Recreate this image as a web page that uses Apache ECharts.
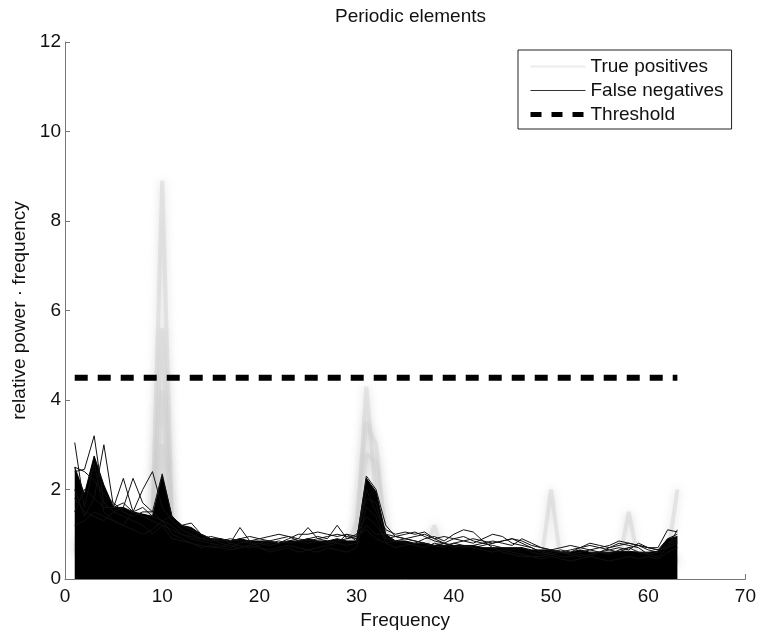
<!DOCTYPE html>
<html>
<head>
<meta charset="utf-8">
<script src="https://cdn.jsdelivr.net/npm/echarts@6/dist/echarts.min.js"></script>
<style>
  html, body { margin: 0; padding: 0; background: #fff; }
  #chart { width: 759px; height: 637px; }
</style>
</head>
<body>
<div id="chart"></div>
<script>
// frequencies 1..63
const freqs = [1, 2, 3, 4, 5, 6, 7, 8, 9, 10, 11, 12, 13, 14, 15, 16,
  17, 18, 19, 20, 21, 22, 23, 24, 25, 26, 27, 28, 29, 30, 31, 32,
  33, 34, 35, 36, 37, 38, 39, 40, 41, 42, 43, 44, 45, 46, 47, 48,
  49, 50, 51, 52, 53, 54, 55, 56, 57, 58, 59, 60, 61, 62, 63];

// dense black bundle of false negatives: top of the solid mass
const massTop = [2.5, 1.9, 2.75, 2.1, 1.6, 1.6, 1.5, 1.45, 1.4, 2.3, 1.4, 1.2, 1.15, 1.0, 0.9, 0.9,
  0.85, 0.9, 0.85, 0.85, 0.85, 0.8, 0.85, 0.85, 0.9, 0.85, 0.85, 0.9, 0.85, 0.85, 2.25, 1.95,
  1.0, 0.85, 0.85, 0.8, 0.8, 0.75, 0.75, 0.75, 0.75, 0.75, 0.7, 0.7, 0.7, 0.7, 0.7, 0.65,
  0.65, 0.65, 0.6, 0.6, 0.65, 0.6, 0.6, 0.6, 0.62, 0.62, 0.6, 0.6, 0.62, 0.9, 0.95];

// individual false-negative traces that stick out of the bundle
const fn1 = [3.05, 1.6, 2.6, 1.5, 1.3, 1.2, 1.1, 1.0, 1.1, 1.3, 1.0, 0.9, 0.8, 0.7, 0.75, 0.7,
  0.8, 1.15, 0.85, 0.7, 0.6, 0.65, 0.7, 0.6, 0.65, 0.6, 0.7, 0.65, 0.6, 0.7, 1.6, 1.4,
  0.8, 0.7, 0.75, 0.8, 0.9, 0.95, 0.85, 1.0, 1.1, 1.05, 0.85, 0.7, 0.6, 0.55, 0.5, 0.5,
  0.45, 0.5, 0.45, 0.4, 0.45, 0.5, 0.45, 0.4, 0.45, 0.5, 0.45, 0.5, 0.45, 0.6, 0.7];
const fn2 = [2.4, 2.45, 3.2, 1.7, 1.5, 1.4, 1.3, 1.2, 1.0, 1.2, 0.9, 0.85, 0.8, 0.75, 0.7, 0.7,
  0.65, 0.7, 0.75, 0.8, 0.75, 0.8, 0.85, 0.9, 1.15, 0.9, 0.85, 0.8, 0.75, 0.8, 2.0, 1.5,
  1.1, 1.0, 1.05, 1.0, 1.05, 0.9, 0.8, 0.7, 0.75, 0.7, 0.65, 0.6, 0.65, 0.6, 0.55, 0.5,
  0.5, 0.55, 0.5, 0.5, 0.55, 0.5, 0.6, 0.7, 0.8, 0.75, 0.7, 0.55, 0.5, 0.7, 1.1];
const fn3 = [1.5, 2.0, 1.8, 3.0, 1.6, 1.7, 1.5, 1.4, 1.3, 1.2, 1.1, 1.0, 0.95, 0.9, 0.85, 0.9,
  0.8, 0.75, 0.7, 0.75, 0.8, 0.85, 0.8, 0.85, 0.9, 0.95, 0.9, 1.2, 0.9, 0.95, 1.8, 1.7,
  0.9, 0.85, 0.8, 0.75, 0.7, 0.8, 0.75, 0.8, 0.85, 0.8, 0.9, 1.0, 0.95, 0.8, 0.75, 0.7,
  0.6, 0.55, 0.6, 0.55, 0.5, 0.55, 0.6, 0.55, 0.65, 0.7, 0.6, 0.55, 0.6, 0.8, 0.9];
const fn4 = [2.0, 1.4, 1.8, 1.6, 1.6, 2.25, 1.5, 1.6, 1.4, 1.3, 1.4, 1.2, 1.25, 1.0, 0.9, 0.85,
  0.9, 0.85, 0.8, 0.8, 0.85, 0.9, 0.95, 0.85, 0.8, 0.85, 0.8, 0.85, 0.9, 1.0, 1.4, 1.2,
  0.9, 0.95, 0.9, 0.85, 0.8, 0.75, 0.7, 0.8, 0.75, 0.7, 0.75, 0.8, 0.85, 0.9, 0.8, 0.7,
  0.6, 0.65, 0.6, 0.65, 0.7, 0.65, 0.7, 0.75, 0.85, 0.8, 0.75, 0.7, 0.65, 0.9, 1.0];
const fn5 = [1.8, 1.5, 1.4, 1.3, 1.5, 1.6, 2.25, 1.7, 1.5, 1.3, 1.2, 1.0, 0.9, 0.85, 0.8, 0.75,
  0.7, 0.8, 0.85, 0.9, 0.95, 1.0, 0.95, 0.9, 0.85, 0.9, 0.95, 1.0, 0.95, 0.9, 1.2, 1.0,
  1.0, 0.95, 1.0, 1.05, 0.95, 0.85, 0.8, 0.9, 0.95, 0.85, 0.8, 0.85, 0.8, 0.75, 0.9, 0.8,
  0.7, 0.65, 0.6, 0.55, 0.6, 0.65, 0.6, 0.65, 0.7, 0.65, 0.8, 0.7, 0.65, 0.7, 0.8];
const fn6 = [1.2, 1.3, 1.5, 1.4, 1.3, 1.2, 1.5, 2.0, 2.4, 1.6, 1.3, 1.1, 1.0, 0.9, 0.95, 0.9,
  0.85, 0.9, 0.95, 0.9, 0.85, 0.8, 0.9, 1.0, 1.0, 1.05, 1.0, 0.95, 1.0, 0.95, 1.1, 0.9,
  0.8, 0.85, 0.9, 0.85, 0.8, 0.75, 0.8, 0.75, 0.7, 0.75, 0.8, 0.75, 0.7, 0.65, 0.7, 0.6,
  0.55, 0.6, 0.65, 0.6, 0.7, 0.75, 0.7, 0.65, 0.6, 0.7, 0.75, 0.65, 0.6, 0.75, 0.85];
const fn7 = [2.5, 2.4, 2.2, 1.9, 1.7, 1.5, 1.4, 1.5, 1.5, 2.35, 1.4, 1.2, 1.1, 1.0, 0.9, 0.8,
  0.75, 0.7, 0.75, 0.7, 0.65, 0.7, 0.75, 0.7, 0.65, 0.7, 0.75, 0.8, 1.0, 0.85, 2.3, 2.0,
  1.2, 0.95, 0.9, 0.95, 1.0, 0.9, 0.95, 0.9, 0.85, 0.9, 0.85, 0.8, 0.85, 0.9, 0.85, 0.75,
  0.7, 0.65, 0.7, 0.75, 0.7, 0.8, 0.75, 0.7, 0.75, 0.8, 0.75, 0.7, 0.7, 1.1, 1.05];

// true-positive traces (light grey, mostly hidden under the bundle)
const tp1 = [0.8, 0.7, 0.9, 0.8, 0.7, 0.6, 0.6, 0.7, 1.4, 8.9, 1.3, 0.8, 0.7, 0.6, 0.5, 0.5,
  0.5, 0.5, 0.5, 0.5, 0.5, 0.5, 0.5, 0.5, 0.5, 0.5, 0.5, 0.5, 0.5, 0.6, 1.2, 0.8,
  0.5, 0.5, 0.5, 0.5, 0.5, 0.5, 0.4, 0.4, 0.4, 0.4, 0.4, 0.4, 0.4, 0.4, 0.4, 0.4,
  0.4, 0.4, 0.4, 0.4, 0.4, 0.4, 0.4, 0.4, 0.4, 0.4, 0.4, 0.4, 0.4, 0.4, 0.4];
const tp2 = [0.9, 0.8, 1.0, 0.8, 0.7, 0.7, 0.6, 0.8, 1.2, 5.6, 1.1, 0.7, 0.6, 0.6, 0.5, 0.5,
  0.5, 0.5, 0.5, 0.5, 0.5, 0.5, 0.5, 0.5, 0.5, 0.5, 0.5, 0.5, 0.6, 0.9, 4.3, 1.8,
  0.6, 0.5, 0.5, 0.5, 0.5, 0.5, 0.4, 0.4, 0.4, 0.4, 0.4, 0.4, 0.4, 0.4, 0.4, 0.4,
  0.4, 0.4, 0.4, 0.4, 0.4, 0.4, 0.4, 0.4, 0.4, 0.4, 0.4, 0.4, 0.4, 0.4, 0.4];
const tp3 = [0.7, 0.6, 0.8, 0.7, 0.6, 0.6, 0.6, 0.7, 1.0, 4.2, 1.0, 0.7, 0.6, 0.5, 0.5, 0.5,
  0.5, 0.5, 0.5, 0.5, 0.5, 0.5, 0.5, 0.5, 0.5, 0.5, 0.5, 0.5, 0.6, 1.3, 3.5, 3.0,
  0.9, 0.5, 0.5, 0.5, 0.6, 1.2, 0.5, 0.4, 0.4, 0.4, 0.4, 0.4, 0.4, 0.4, 0.4, 0.4,
  0.4, 2.0, 0.4, 0.4, 0.4, 0.4, 0.4, 0.4, 0.4, 0.4, 0.4, 0.4, 0.4, 0.4, 0.4];
const tp4 = [0.6, 0.6, 0.7, 0.6, 0.6, 0.5, 0.5, 0.6, 0.8, 3.0, 0.8, 0.6, 0.5, 0.5, 0.5, 0.5,
  0.5, 0.5, 0.5, 0.5, 0.5, 0.5, 0.5, 0.5, 0.5, 0.5, 0.5, 0.5, 0.5, 0.8, 2.8, 2.6,
  1.0, 0.5, 0.5, 0.5, 0.5, 0.5, 0.4, 0.4, 0.4, 0.4, 0.4, 0.4, 0.4, 0.4, 0.4, 0.4,
  0.4, 0.4, 0.4, 0.4, 0.4, 0.4, 0.4, 0.4, 0.4, 1.5, 0.4, 0.4, 0.4, 0.5, 2.0];

const threshold = 4.5;

const font = '"Liberation Sans", Arial, Helvetica, sans-serif';

function pairs(vals) {
  return freqs.map((f, i) => [f, vals[i]]);
}

const greyLine = {
  color: '#d2d2d2', width: 4, opacity: 0.5,
  shadowBlur: 8, shadowColor: 'rgba(185,185,185,0.9)'
};
const blackLine = { color: '#111', width: 1 };

const series = [];
[tp1, tp2, tp3, tp4].forEach(v => {
  series.push({
    name: 'True positives', type: 'line', data: pairs(v), z: 1,
    symbol: 'none', silent: true, lineStyle: greyLine,
    itemStyle: { color: '#e4e4e4' }
  });
});
series.push({
  name: 'mass', type: 'line', data: pairs(massTop), z: 2,
  symbol: 'none', silent: true,
  lineStyle: { color: '#000', width: 1 },
  itemStyle: { color: '#000' },
  areaStyle: { color: '#000', opacity: 1 }
});
[fn1, fn2, fn3, fn4, fn5, fn6, fn7].forEach(v => {
  series.push({
    name: 'False negatives', type: 'line', data: pairs(v), z: 3,
    symbol: 'none', silent: true, lineStyle: blackLine,
    itemStyle: { color: '#111' }
  });
});
series.push({
  name: 'Threshold', type: 'line', z: 4,
  data: [[freqs[0], threshold], [freqs[freqs.length - 1], threshold]],
  symbol: 'none', silent: true,
  itemStyle: { color: '#000' },
  lineStyle: { color: '#000', width: 6, type: [13, 10], cap: 'butt' }
});

const chart = echarts.init(document.getElementById('chart'), null, { renderer: 'canvas' });
chart.setOption({
  animation: false,
  backgroundColor: '#fff',
  textStyle: { fontFamily: font },
  title: {
    text: 'Periodic elements',
    left: 330, top: 2,
    textStyle: { fontFamily: font, fontSize: 19, fontWeight: 'normal', color: '#111' }
  },
  legend: {
    left: 518, top: 50, orient: 'vertical',
    padding: [7, 8, 5, 10],
    itemWidth: 55, itemHeight: 14, itemGap: 5,
    borderColor: '#222', borderWidth: 1,
    backgroundColor: '#fff',
    textStyle: { fontFamily: font, fontSize: 19, color: '#111' },
    data: [
      { name: 'True positives', itemStyle: { opacity: 0 }, lineStyle: { color: '#ececec', width: 2, opacity: 1 } },
      { name: 'False negatives', itemStyle: { opacity: 0 }, lineStyle: { color: '#333', width: 1, opacity: 1 } },
      { name: 'Threshold', itemStyle: { opacity: 0 }, lineStyle: { color: '#000', width: 5, type: [11, 10], cap: 'butt', opacity: 1 } }
    ]
  },
  grid: { left: 65, right: 12, top: 42, bottom: 58 },
  xAxis: {
    type: 'value', min: 0, max: 70, interval: 10,
    name: 'Frequency', nameLocation: 'middle', nameGap: 28,
    nameTextStyle: { fontFamily: font, fontSize: 19, color: '#111' },
    axisLine: { lineStyle: { color: '#777', width: 1 } },
    axisTick: { inside: true, length: 5, lineStyle: { color: '#777' } },
    axisLabel: { fontFamily: font, fontSize: 19, color: '#111', margin: 8 },
    splitLine: { show: false }
  },
  yAxis: {
    type: 'value', min: 0, max: 12, interval: 2,
    name: 'relative power · frequency', nameLocation: 'middle', nameGap: 36,
    nameTextStyle: { fontFamily: font, fontSize: 19, color: '#111' },
    axisLine: { show: true, lineStyle: { color: '#777', width: 1 } },
    axisTick: { show: true, inside: true, length: 5, lineStyle: { color: '#777' } },
    axisLabel: { fontFamily: font, fontSize: 19, color: '#111', margin: 4 },
    splitLine: { show: false }
  },
  series: series
});
</script>
</body>
</html>
